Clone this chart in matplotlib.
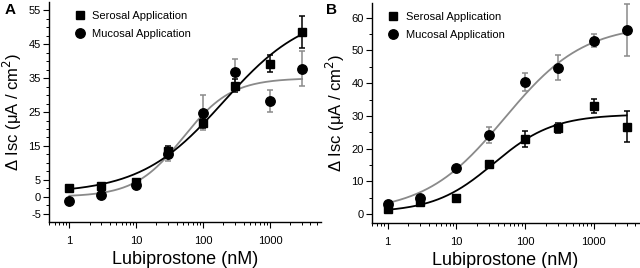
import numpy as np
import matplotlib

matplotlib.use('Agg')
import matplotlib.pyplot as plt
from matplotlib.ticker import FixedLocator, MultipleLocator, LogLocator, NullFormatter

plt.rcParams['font.family'] = ['Liberation Sans', 'DejaVu Sans']
plt.rcParams['axes.unicode_minus'] = False

# concentrations (nM)
conc = [1, 3, 10, 30, 100, 300, 1000, 3000]

# panel A
ser_a = [2.5, 3.3, 4.4, 13.5, 21.8, 32.8, 39.3, 48.5]
ser_a_err = [0.8, 0.5, 0.8, 1.5, 1.5, 2.0, 2.5, 4.7]
muc_a = [-1.2, 0.5, 3.5, 12.5, 24.8, 36.7, 28.3, 37.8]
muc_a_err = [0.5, 0.8, 0.8, 2.0, 5.2, 4.0, 3.2, 5.2]

# panel B
ser_b = [1.5, 3.7, 4.9, 15.2, 23.0, 26.4, 33.1, 26.7]
ser_b_err = [0.5, 1.0, 0.5, 0.8, 2.5, 1.5, 2.2, 4.8]
muc_b = [3.0, 4.8, 14.0, 24.2, 40.4, 44.7, 53.0, 56.3]
muc_b_err = [0.8, 0.8, 0.8, 2.5, 2.8, 3.8, 2.0, 8.0]

# fitted dose-response (bottom, top, EC50, hill slope)
fit_ser_a = (1.0, 55.0, 200.0, 0.7)
fit_muc_a = (0.0, 35.0, 50.0, 1.2)
fit_ser_b = (0.5, 30.5, 35.0, 1.0)
fit_muc_b = (0.5, 58.0, 50.0, 0.75)

GRAY = '#8a8a8a'


def hill(x, bottom, top, ec50, n):
    return bottom + (top - bottom) / (1 + (ec50 / x) ** n)


def draw_panel(ax, ser, ser_err, muc, muc_err, fit_s, fit_m, leg_x):
    xs = np.logspace(0, np.log10(3000), 200)
    ax.plot(xs, hill(xs, *fit_m), color=GRAY, lw=1.3, zorder=2)
    ax.plot(xs, hill(xs, *fit_s), color='black', lw=1.3, zorder=2)
    ax.errorbar(conc, muc, yerr=muc_err, fmt='none', ecolor=GRAY,
                elinewidth=1.1, capsize=2.5, capthick=1.1, zorder=3)
    ax.errorbar(conc, ser, yerr=ser_err, fmt='none', ecolor='black',
                elinewidth=1.1, capsize=2.5, capthick=1.1, zorder=3)
    ax.plot(conc, muc, 'o', color='black', ms=6.8, ls='none', zorder=4,
            label='Mucosal Application')
    ax.plot(conc, ser, 's', color='black', ms=5.5, ls='none', zorder=5,
            label='Serosal Application')

    ax.set_xscale('log')
    ax.xaxis.set_major_locator(FixedLocator([1, 10, 100, 1000]))
    ax.set_xticklabels(['1', '10', '100', '1000'])
    ax.xaxis.set_minor_locator(LogLocator(base=10, subs=np.arange(2, 10), numticks=20))
    ax.xaxis.set_minor_formatter(NullFormatter())

    for s in ['top', 'right']:
        ax.spines[s].set_visible(False)
    for s in ['left', 'bottom']:
        ax.spines[s].set_linewidth(1.0)
    ax.tick_params(which='major', direction='out', length=4, width=0.8, labelsize=8, pad=2)
    ax.tick_params(which='minor', direction='out', length=2.5, width=0.7)
    ax.tick_params(axis='x', which='major', pad=6)

    ax.set_xlabel('Lubiprostone (nM)', fontsize=13, labelpad=4)
    ax.set_ylabel('Δ Isc (μA / cm$^2$)', fontsize=12, labelpad=3)

    h, l = ax.get_legend_handles_labels()
    ax.legend(h[::-1], l[::-1], loc='upper left', bbox_to_anchor=(leg_x, 0.98),
              frameon=False, fontsize=8, handlelength=1.0, handletextpad=0.6,
              labelspacing=0.75, borderaxespad=0)


fig = plt.figure(figsize=(6.4, 2.68), dpi=100)
ax_a = fig.add_axes([0.077, 0.172, 0.425, 0.82])
ax_b = fig.add_axes([0.581, 0.168, 0.417, 0.821])

draw_panel(ax_a, ser_a, ser_a_err, muc_a, muc_a_err, fit_ser_a, fit_muc_a, 0.076)
ax_a.set_xlim(0.5, 5800)
ax_a.set_ylim(-7.4, 57.4)
ax_a.yaxis.set_major_locator(FixedLocator([-5, 0, 5, 15, 25, 35, 45, 55]))
ax_a.yaxis.set_minor_locator(MultipleLocator(2.5))

draw_panel(ax_b, ser_b, ser_b_err, muc_b, muc_b_err, fit_ser_b, fit_muc_b, 0.043)
ax_b.set_xlim(0.59, 4500)
ax_b.set_ylim(-2.7, 64.5)
ax_b.yaxis.set_major_locator(MultipleLocator(10))
ax_b.yaxis.set_minor_locator(MultipleLocator(5))

fig.text(0.008, 0.962, 'A', fontsize=11, fontweight='bold', va='center')
fig.text(0.510, 0.962, 'B', fontsize=11, fontweight='bold', va='center')

fig.savefig('out.png', dpi=100)
